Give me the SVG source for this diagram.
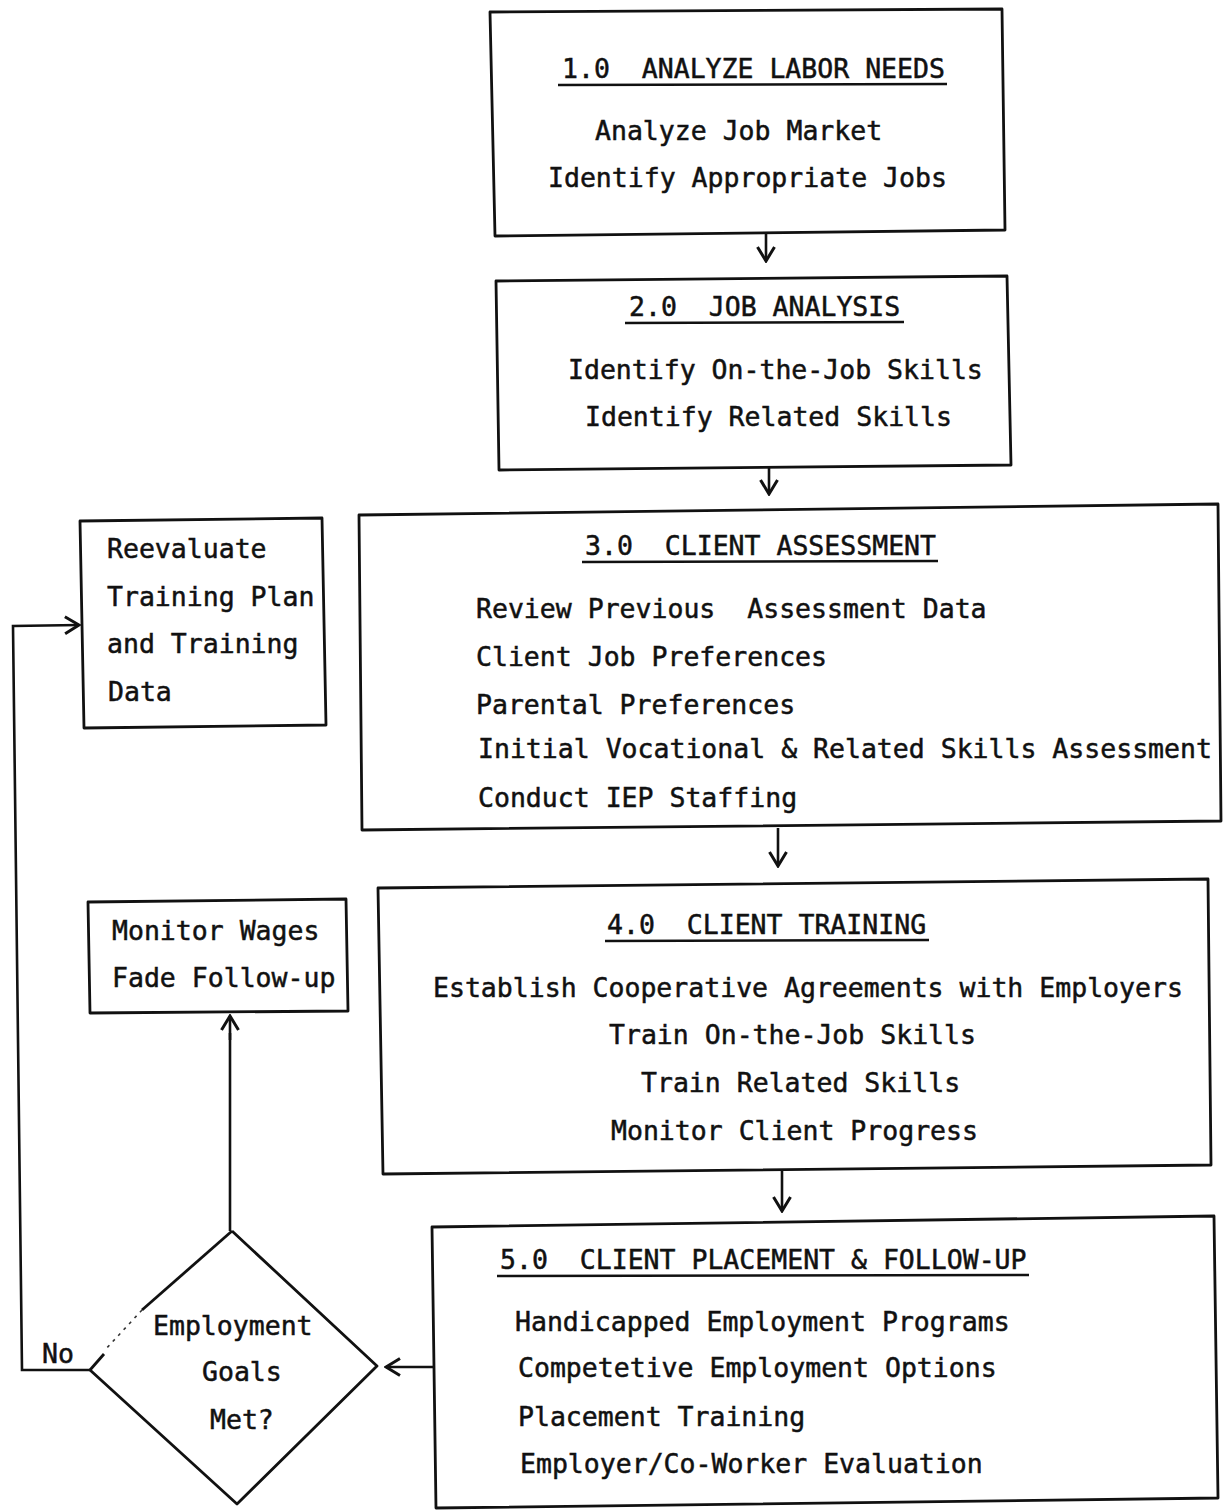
<svg xmlns="http://www.w3.org/2000/svg" width="1225" height="1512" viewBox="0 0 1225 1512">
  <style>
    .box { fill: none; stroke: #111; stroke-width: 2.8; stroke-linejoin: round; }
    .txt { font-family: "DejaVu Sans Mono", "Liberation Mono", monospace; font-size: 26.5px; fill: #111; stroke: #111; stroke-width: 0.5; white-space: pre; }
    .ul { stroke: #111; stroke-width: 2.6; }
    .conn { fill: none; stroke: #111; stroke-width: 2.6; }
  </style>
  <defs>
    <marker id="arr" viewBox="0 0 20 20" refX="18" refY="10" markerWidth="20" markerHeight="20" markerUnits="userSpaceOnUse" orient="auto">
      <path d="M4,1.5 L18,10 L4,18.5" fill="none" stroke="#111" stroke-width="3" stroke-linejoin="miter"/>
    </marker>
  </defs>
  <rect width="1225" height="1512" fill="#fff"/>

  <!-- 1.0 Analyze labor needs -->
  <g id="node-1">
    <polygon class="box" points="490,12 1002,9 1005,230 495,236"/>
    <text class="txt" x="562" y="78" xml:space="preserve">1.0  ANALYZE LABOR NEEDS</text>
    <line class="ul" x1="558" y1="85" x2="947" y2="84"/>
    <text class="txt" x="595" y="140">Analyze Job Market</text>
    <text class="txt" x="548" y="187">Identify Appropriate Jobs</text>
  </g>

  <!-- 2.0 Job analysis -->
  <g id="node-2">
    <polygon class="box" points="496,281 1007,276 1011,465 499,470"/>
    <text class="txt" x="629" y="316" xml:space="preserve">2.0  JOB ANALYSIS</text>
    <line class="ul" x1="625" y1="323" x2="904" y2="322"/>
    <text class="txt" x="568" y="379">Identify On-the-Job Skills</text>
    <text class="txt" x="585" y="426">Identify Related Skills</text>
  </g>

  <!-- 3.0 Client assessment -->
  <g id="node-3">
    <polygon class="box" points="359,515 1218,504 1221,821 362,830"/>
    <text class="txt" x="585" y="555" xml:space="preserve">3.0  CLIENT ASSESSMENT</text>
    <line class="ul" x1="582" y1="562" x2="938" y2="561"/>
    <text class="txt" x="476" y="618" xml:space="preserve">Review Previous  Assessment Data</text>
    <text class="txt" x="476" y="666">Client Job Preferences</text>
    <text class="txt" x="476" y="714">Parental Preferences</text>
    <text class="txt" x="478" y="758">Initial Vocational &amp; Related Skills Assessment</text>
    <text class="txt" x="478" y="807">Conduct IEP Staffing</text>
  </g>

  <!-- Reevaluate training plan -->
  <g id="node-reevaluate">
    <polygon class="box" points="80,521 322,518 326,725 84,728"/>
    <text class="txt" x="107" y="558">Reevaluate</text>
    <text class="txt" x="107" y="606">Training Plan</text>
    <text class="txt" x="107" y="653">and Training</text>
    <text class="txt" x="108" y="701">Data</text>
  </g>

  <!-- 4.0 Client training -->
  <g id="node-4">
    <polygon class="box" points="378,888 1208,879 1211,1165 383,1174"/>
    <text class="txt" x="607" y="934" xml:space="preserve">4.0  CLIENT TRAINING</text>
    <line class="ul" x1="605" y1="941" x2="929" y2="940"/>
    <text class="txt" x="433" y="997">Establish Cooperative Agreements with Employers</text>
    <text class="txt" x="609" y="1044">Train On-the-Job Skills</text>
    <text class="txt" x="641" y="1092">Train Related Skills</text>
    <text class="txt" x="611" y="1140">Monitor Client Progress</text>
  </g>

  <!-- Monitor wages -->
  <g id="node-monitor">
    <polygon class="box" points="88,902 346,899 348,1011 90,1013"/>
    <text class="txt" x="112" y="940">Monitor Wages</text>
    <text class="txt" x="112" y="987">Fade Follow-up</text>
  </g>

  <!-- 5.0 Client placement and follow-up -->
  <g id="node-5">
    <polygon class="box" points="432,1227 1214,1216 1218,1498 436,1508"/>
    <text class="txt" x="500" y="1269" xml:space="preserve">5.0  CLIENT PLACEMENT &amp; FOLLOW-UP</text>
    <line class="ul" x1="497" y1="1276" x2="1029" y2="1275"/>
    <text class="txt" x="515" y="1331">Handicapped Employment Programs</text>
    <text class="txt" x="518" y="1377">Competetive Employment Options</text>
    <text class="txt" x="518" y="1426">Placement Training</text>
    <text class="txt" x="520" y="1473">Employer/Co-Worker Evaluation</text>
  </g>

  <!-- Decision: employment goals met? -->
  <g id="node-decision">
    <path class="box" d="M232,1231 L377,1366 L237,1504 L90,1370"/>
    <path class="box" d="M232,1231 L142,1310"/>
    <path fill="none" stroke="#333" stroke-width="1.6" stroke-dasharray="3,5" d="M142,1310 L104,1351"/>
    <path class="box" d="M104,1354 L90,1370"/>
    <text class="txt" x="153" y="1335">Employment</text>
    <text class="txt" x="202" y="1381">Goals</text>
    <text class="txt" x="210" y="1429">Met?</text>
  </g>

  <!-- Connectors -->
  <g id="connectors">
    <line class="conn" x1="766" y1="233" x2="766" y2="261" marker-end="url(#arr)"/>
    <line class="conn" x1="769" y1="468" x2="769" y2="494" marker-end="url(#arr)"/>
    <line class="conn" x1="778" y1="828" x2="778" y2="866" marker-end="url(#arr)"/>
    <line class="conn" x1="782" y1="1170" x2="782" y2="1211" marker-end="url(#arr)"/>
    <line class="conn" x1="433" y1="1367" x2="386" y2="1367" marker-end="url(#arr)"/>
    <line class="conn" x1="230" y1="1231" x2="230" y2="1033" stroke-width="4"/>
    <line class="conn" x1="230" y1="1040" x2="230" y2="1016" marker-end="url(#arr)"/>
    <polyline class="conn" points="90,1370 22,1370 13,626 79,625" marker-end="url(#arr)"/>
    <text class="txt" x="42" y="1363">No</text>
  </g>
</svg>
